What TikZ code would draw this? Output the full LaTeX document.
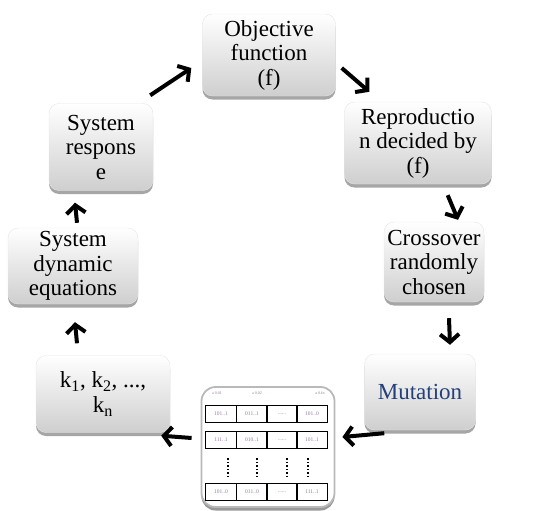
\documentclass[tikz,border=0pt]{standalone}
\usepackage{fontspec}
\setmainfont{Liberation Serif}
\usetikzlibrary{arrows.meta, shadows, positioning}
\definecolor{mutblue}{RGB}{36,64,122}
\definecolor{celltext}{RGB}{150,120,160}
\tikzset{x=1pt, y=-1pt,
    block/.style={rectangle, rounded corners=10pt, draw=gray!20, align=center,
        top color=white, bottom color=gray!38, inner sep=1pt,
        font=\fontsize{23}{24.5}\selectfont,
        drop shadow={shadow xshift=0pt, shadow yshift=-3.5pt, opacity=0.35, fill=black}},
    flow/.style={-{Straight Barb[length=8pt, width=19pt]}, line width=4pt},
    icon/.style={rectangle, rounded corners=14pt, draw=gray!55, line width=1.8pt, fill=white,
        drop shadow={shadow xshift=0pt, shadow yshift=-3.5pt, opacity=0.4, fill=black}},
    cell/.style={rectangle, draw, line width=1.5pt, minimum width=31pt, minimum height=17pt,
        inner sep=0pt, text=celltext, font=\fontsize{5.5}{6}\selectfont},
    header/.style={text=celltext, font=\fontsize{4}{5}\selectfont},
    gap/.style={dotted, line width=1.5pt}}

\begin{document}
\begin{tikzpicture}
\useasboundingbox (0,0) rectangle (533,511);

\node[block, minimum width=133pt, minimum height=82pt] (obj) at (269,55) {Objective\\function\\(f)};
\node[block, minimum width=147pt, minimum height=82pt] (repro) at (418,143) {Reproductio\\n decided by\\(f)};
\node[block, minimum width=100pt, minimum height=80pt] (cross) at (434,262) {Crossover\\randomly\\chosen};
\node[block, minimum width=111pt, minimum height=76pt, text=mutblue] (mut) at (420,392) {Mutation};
\node[icon, minimum width=133pt, minimum height=120pt] (pop) at (268,447) {};
\node[block, minimum width=134pt, minimum height=77pt] (gains) at (103,394) {k\textsubscript{1}, k\textsubscript{2}, ...,\\k\textsubscript{n}};
\node[block, minimum width=130pt, minimum height=76pt] (dyn) at (73,266) {System\\dynamic\\equations};
\node[block, minimum width=104pt, minimum height=87pt] (resp) at (101,147) {System\\respons\\e};

% population table inside the icon
\node[header] (h1) at (217,393) {a 0.01};
\node[header] (h2) at (257,393) {a 0.02};
\node[header] (h3) at (320,393) {a 0.fn};
\node[cell] (c11) at (221,414) {101..1};
\node[cell] (c12) at (252,414) {011..1};
\node[cell] (c13) at (282,414) {......};
\node[cell] (c14) at (312,414) {101..0};
\node[cell] (c21) at (221,440) {111..1};
\node[cell] (c22) at (252,440) {010..1};
\node[cell] (c23) at (282,440) {......};
\node[cell] (c24) at (312,440) {101..1};
\node[cell] (c31) at (221,492) {101..0};
\node[cell] (c32) at (252,492) {011..0};
\node[cell] (c33) at (282,492) {......};
\node[cell] (c34) at (312,492) {111..1};
\draw[gap] (228,458) -- (228,478);
\draw[gap] (257,458) -- (257,478);
\draw[gap] (287,458) -- (287,478);
\draw[gap] (308,458) -- (308,478);

\path
    ([shift={(-3,-8)}]resp.north east)  edge[flow] ([shift={(-11,13)}]obj.west)
    ([shift={(6,13)}]obj.east)          edge[flow] ([shift={(25,-10)}]repro.north west)
    ([shift={(-44,11)}]repro.south east) edge[flow] ([shift={(24,-2)}]cross.north)
    ([shift={(15,16)}]cross.south)      edge[flow] ([shift={(30,-9)}]mut.north)
    ([shift={(20,3)}]mut.south west)    edge[flow] ([shift={(7,-10)}]pop.east)
    ([shift={(-9,-9)}]pop.west)         edge[flow] ([shift={(-9,3)}]gains.south east)
    ([shift={(-26,-12)}]gains.north)    edge[flow] ([shift={(2,18)}]dyn.south)
    ([shift={(4,-5)}]dyn.north)         edge[flow] ([shift={(-26,12)}]resp.south);
\end{tikzpicture}
\end{document}
